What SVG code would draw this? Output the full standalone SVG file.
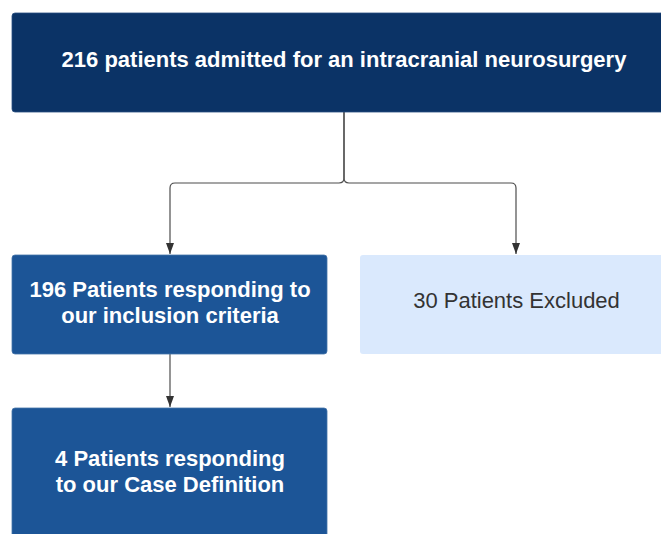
<svg xmlns="http://www.w3.org/2000/svg" width="661" height="534" viewBox="0 0 661 534">
<style>
.t{font-family:"Liberation Sans",Arial,sans-serif;font-size:22px;text-anchor:middle}
.w{fill:#ffffff;font-weight:bold}
.d{fill:#333333}
.c{fill:none;stroke:#4d4d4d;stroke-width:1.2}
</style>
<defs>
<marker id="ah" markerWidth="12" markerHeight="10" refX="11" refY="5" orient="auto" markerUnits="userSpaceOnUse" viewBox="0 0 12 10">
<path d="M0,1 L11,5 L0,9 Z" fill="#333333"/>
</marker>
</defs>
<rect width="661" height="534" fill="#ffffff"/>
<g id="connectors">
<path class="c" d="M344,112 V178 Q344,183 339,183 H175 Q170,183 170,188 V254" marker-end="url(#ah)"/>
<path class="c" d="M344,112 V178 Q344,183 349,183 H511 Q516,183 516,188 V254" marker-end="url(#ah)"/>
<path class="c" d="M170,354 V407" marker-end="url(#ah)"/>
</g>
<g id="n1">
<rect x="12" y="13" width="664" height="99" rx="3" fill="#0b3366" stroke="#2a4f80" stroke-width="0.8"/>
<text class="t w" x="344" y="66.5">216 patients admitted for an intracranial neurosurgery</text>
</g>
<g id="n2">
<rect x="12" y="255" width="315" height="99" rx="3" fill="#1c5597" stroke="#4573a8" stroke-width="0.8"/>
<text class="t w" x="170" y="297">196 Patients responding to</text>
<text class="t w" x="170" y="323">our inclusion criteria</text>
</g>
<g id="n3">
<rect x="360" y="255" width="316" height="99" rx="3" fill="#dae9fd"/>
<text class="t d" x="516.5" y="308">30 Patients Excluded</text>
</g>
<g id="n4">
<rect x="12" y="408" width="315" height="140" rx="3" fill="#1c5597" stroke="#4573a8" stroke-width="0.8"/>
<text class="t w" x="170" y="465.5">4 Patients responding</text>
<text class="t w" x="170" y="492">to our Case Definition</text>
</g>
</svg>
